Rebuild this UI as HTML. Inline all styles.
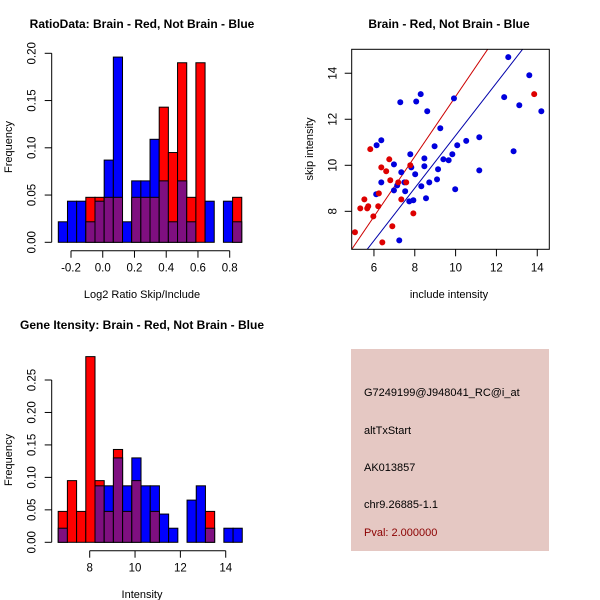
<!DOCTYPE html>
<html><head><meta charset="utf-8"><style>
html,body{margin:0;padding:0;background:#fff;}
svg{display:block;font-family:"Liberation Sans",Arial,sans-serif;}
</style></head><body>
<svg id="c" width="600" height="600" viewBox="0 0 600 600" xmlns="http://www.w3.org/2000/svg">
<rect width="600" height="600" fill="#fff"/>
<text x="142" y="28" text-anchor="middle" font-size="12" font-weight="bold">RatioData: Brain - Red, Not Brain - Blue</text>
<text x="449" y="28" text-anchor="middle" font-size="12" font-weight="bold">Brain - Red, Not Brain - Blue</text>
<text x="142" y="329" text-anchor="middle" font-size="12" font-weight="bold">Gene Itensity: Brain - Red, Not Brain - Blue</text>
<text x="142" y="298" text-anchor="middle" font-size="11">Log2 Ratio Skip/Include</text>
<text transform="translate(12,147) rotate(-90)" text-anchor="middle" font-size="11">Frequency</text>
<text x="142" y="598" text-anchor="middle" font-size="11">Intensity</text>
<text transform="translate(12,460) rotate(-90)" text-anchor="middle" font-size="11">Frequency</text>
<text x="449" y="298" text-anchor="middle" font-size="11">include intensity</text>
<text transform="translate(313,149) rotate(-90)" text-anchor="middle" font-size="11">skip intensity</text>
<g>
<rect x="351" y="349" width="198" height="202" fill="#E5C8C3"/>
<text x="364" y="396" font-size="11" fill="#000">G7249199@J948041_RC@i_at</text>
<text x="364" y="434" font-size="11" fill="#000">altTxStart</text>
<text x="364" y="471" font-size="11" fill="#000">AK013857</text>
<text x="364" y="508" font-size="11" fill="#000">chr9.26885-1.1</text>
<text x="364" y="536" font-size="11" fill="#8B0000">Pval: 2.000000</text>
</g>
</svg>
<script>
// ratio histogram data
const ratioBinStart = -0.28;
const ratioBinWidth = 0.0578;
const ratioBlue = [0.0217,0.0435,0.0435,0.0217,0.0435,0.087,0.196,0.0217,0.065,0.065,0.109,0.065,0.0217,0.065,0.0217,0,0.0435,0,0.0435,0.0217];
const ratioRed  = [0,0,0,0.0476,0.0476,0.0476,0.0476,0,0.0476,0.0476,0.0476,0.143,0.095,0.190,0.0476,0.190,0,0,0,0.0476];
const ratioXTicks = [-0.2,0,0.2,0.4,0.6,0.8];
const ratioXLabels = ["-0.2","0.0","0.2","0.4","0.6","0.8"];
const ratioYTicks = [0,0.05,0.1,0.15,0.2];
const ratioYLabels = ["0.00","0.05","0.10","0.15","0.20"];
// gene histogram data
const geneBinStart = 6.61;
const geneBinWidth = 0.406;
const geneBlue = [0.0217,0,0,0,0.087,0.087,0.130,0.087,0.130,0.087,0.087,0.0435,0.0217,0,0.065,0.087,0.0217,0,0.0217,0.0217];
const geneRed  = [0.0476,0.095,0.0476,0.286,0.095,0.0476,0.143,0.0476,0.095,0,0.0476,0,0,0,0,0,0.0476,0,0,0];
const geneXTicks = [8,10,12,14];
const geneYTicks = [0,0.05,0.1,0.15,0.2,0.25];
const geneYLabels = ["0.00","0.05","0.10","0.15","0.20","0.25"];
// scatter data
const blueX = [12.58,13.61,12.38,13.12,14.20,12.84,7.29,8.29,8.07,8.61,9.92,9.25,6.36,6.13,8.97,10.08,10.52,11.16,7.78,8.47,9.84,9.40,9.66,6.98,7.83,8.47,9.14,11.16,7.34,8.02,9.09,6.36,7.49,8.71,8.32,7.14,6.98,7.53,9.98,6.11,8.55,7.73,7.93,7.24];
const blueY = [14.70,13.91,12.96,12.61,12.35,10.61,12.74,13.09,12.77,12.35,12.91,11.61,11.09,10.87,10.83,10.87,11.06,11.22,10.48,10.30,10.48,10.26,10.22,10.04,9.91,9.96,9.83,9.78,9.70,9.61,9.39,9.26,9.26,9.26,9.09,9.13,8.91,8.87,8.96,8.74,8.57,8.43,8.48,6.74];
const redX = [5.82,6.75,6.36,6.60,6.80,7.19,7.58,7.78,6.24,5.53,5.33,5.67,5.72,6.21,7.34,5.97,7.93,6.90,5.07,6.41,13.85];
const redY = [10.70,10.26,9.91,9.74,9.35,9.26,9.26,10.00,8.78,8.52,8.13,8.13,8.22,8.22,8.52,7.78,7.91,7.35,7.09,6.65,13.09];
const redLine = [-0.06,1.305];   // intercept, slope
const blueLine = [-0.126,1.142];
const scatXTicks = [6,8,10,12,14];
const scatYTicks = [8,10,12,14];

const NS="http://www.w3.org/2000/svg";
const svg=document.getElementById('c');
function mk(tag,attrs,parent){const e=document.createElementNS(NS,tag);for(const k in attrs)e.setAttribute(k,attrs[k]);(parent||svg).appendChild(e);return e;}

function hist(o){
  const g=mk('g',{});
  
  
  const sx=v=>o.x0px+(v-o.x0v)*o.xs, sy=v=>o.y0px-v*o.ys;
  for(let i=0;i<o.blue.length;i++){
    const x1=sx(o.start+i*o.w), x2=sx(o.start+(i+1)*o.w);
    const b=o.blue[i], r=o.red[i], mx=Math.max(b,r), mn=Math.min(b,r);
    if(mx>0){
      const e=mk('rect',{x:x1,y:sy(mx),width:x2-x1,height:sy(0)-sy(mx),fill:b>=r?'#0000FF':'#FF0000',stroke:'#000','stroke-width':1},g);
      
      
    }
    if(mn>0){
      const e=mk('rect',{x:x1,y:sy(mn),width:x2-x1,height:sy(0)-sy(mn),fill:'#7F0F80',stroke:'#000','stroke-width':1},g);
      
      
    }
  }
  const ax=mk('g',{stroke:'#000','stroke-width':1},g);
  
  
  const yt=o.yticks;
  mk('line',{x1:o.yaxX,x2:o.yaxX,y1:sy(yt[0]),y2:sy(yt[yt.length-1])},ax);
  yt.forEach((t,i)=>{mk('line',{x1:o.yaxX-7,x2:o.yaxX,y1:sy(t),y2:sy(t)},ax);
    const tx=mk('text',{transform:`translate(${o.yaxX-16},${sy(t)}) rotate(-90)`,'text-anchor':'middle','font-size':11.5,stroke:'none'},ax);tx.textContent=o.ylabels[i];});
  const xa=mk('g',{stroke:'#000','stroke-width':1},g);
  
  
  const xt=o.xticks;
  mk('line',{x1:sx(xt[0]),x2:sx(xt[xt.length-1]),y1:o.xaxY,y2:o.xaxY},xa);
  xt.forEach((t,i)=>{mk('line',{x1:sx(t),x2:sx(t),y1:o.xaxY,y2:o.xaxY+7},xa);
    const tx=mk('text',{x:sx(t),y:o.xaxY+21,'text-anchor':'middle','font-size':11.5,stroke:'none'},xa);tx.textContent=o.xlabels[i];});
}
hist({name:'ratio-histogram',start:ratioBinStart,w:ratioBinWidth,blue:ratioBlue,red:ratioRed,
  x0v:-0.2,x0px:71,xs:158.7/1.0,y0px:242.3,ys:189/0.2,yaxX:51.7,xaxY:250.7,
  xticks:ratioXTicks,xlabels:ratioXLabels,yticks:ratioYTicks,ylabels:ratioYLabels});
hist({name:'gene-histogram',start:geneBinStart,w:geneBinWidth,blue:geneBlue,red:geneRed,
  x0v:8,x0px:89.7,xs:22.67,y0px:542.3,ys:162.3/0.25,yaxX:51.7,xaxY:550.7,
  xticks:geneXTicks,xlabels:geneXTicks.map(String),yticks:geneYTicks,ylabels:geneYLabels});

// scatter
const L=351.7,R=549.3,T=49.3,B=249.3,xmin=4.91,xmax=14.59,ymin=6.35,ymax=15.04;
const sx=v=>L+(v-xmin)/(xmax-xmin)*(R-L), sy=v=>B-(v-ymin)/(ymax-ymin)*(B-T);
const sg=mk('g',{});


const cp=mk('clipPath',{id:'sc'},sg);mk('rect',{x:L,y:T,width:R-L,height:B-T},cp);
[[redLine,'#CC0000','red-fit-line'],[blueLine,'#0000AA','blue-fit-line']].forEach(([ln,col,nm])=>{
  const e=mk('line',{x1:sx(xmin),y1:sy(ln[0]+ln[1]*xmin),x2:sx(xmax),y2:sy(ln[0]+ln[1]*xmax),stroke:col,'stroke-width':1,'clip-path':'url(#sc)'},sg);
  
  
});
blueX.forEach((x,i)=>{const c=mk('circle',{cx:sx(x),cy:sy(blueY[i]),r:3,fill:'#0000DD'},sg);
  
  });
redX.forEach((x,i)=>{const c=mk('circle',{cx:sx(x),cy:sy(redY[i]),r:3,fill:'#DD0000'},sg);
  
  });
mk('rect',{x:L,y:T,width:R-L,height:B-T,fill:'none',stroke:'#000','stroke-width':1},sg);
const sax=mk('g',{stroke:'#000'},sg);


scatXTicks.forEach(t=>{mk('line',{x1:sx(t),x2:sx(t),y1:B,y2:B+7},sax);
  const tx=mk('text',{x:sx(t),y:B+22,'text-anchor':'middle','font-size':11.5,stroke:'none'},sax);tx.textContent=t;});
scatYTicks.forEach(t=>{mk('line',{x1:L-7,x2:L,y1:sy(t),y2:sy(t)},sax);
  const tx=mk('text',{transform:`translate(${L-15},${sy(t)}) rotate(-90)`,'text-anchor':'middle','font-size':11.5,stroke:'none'},sax);tx.textContent=t;});
</script>
</body></html>
